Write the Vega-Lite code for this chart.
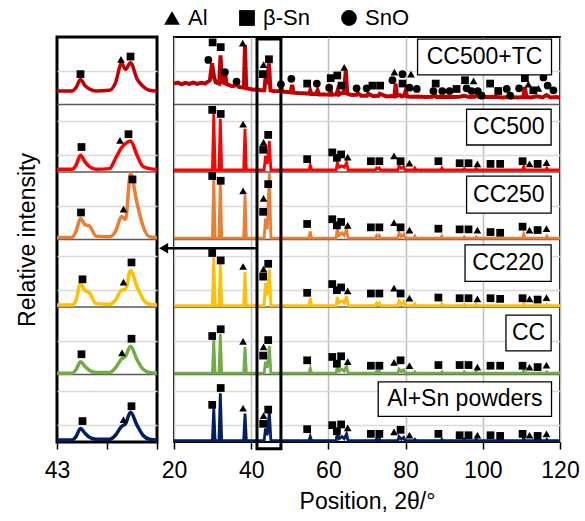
{
"$schema": "https://vega.github.io/schema/vega-lite/v6.json",
"background": "white",
"padding": {"left": 14, "top": 7, "right": 0, "bottom": 0},
"spacing": 17,
"bounds": "flush",
"datasets": {
"rLines": [
{"x":20,"A":0.02,"B":1.02,"C":2.02,"D":3.02,"E":4.03},
{"x":29.95,"A":0.02,"B":1.02,"C":2.02,"D":3.02,"E":4.03},
{"x":30.3,"A":0.50,"B":1.51,"C":2.77,"D":3.93,"E":4.87},
{"x":30.65,"A":0.02,"B":1.02,"C":2.02,"D":3.02,"E":4.03},
{"x":31.65,"A":0.02,"B":1.02,"C":2.02,"D":3.02,"E":4.03},
{"x":32.0,"A":0.72,"B":1.60,"C":2.64,"D":3.86,"E":4.79},
{"x":32.35,"A":0.02,"B":1.02,"C":2.02,"D":3.02,"E":4.03},
{"x":38.05,"A":0.02,"B":1.02,"C":2.02,"D":3.02,"E":4.03},
{"x":38.4,"A":0.42,"B":1.41,"C":2.52,"D":3.66,"E":4.64},
{"x":38.75,"A":0.02,"B":1.02,"C":2.02,"D":3.02,"E":4.03},
{"x":43.35,"A":0.02,"B":1.02,"C":2.02,"D":3.02,"E":4.03},
{"x":43.7,"A":0.20,"B":1.19,"C":2.35,"D":3.31,"E":4.24},
{"x":44.15,"A":0.10,"B":1.10,"C":2.17,"D":3.15,"E":4.12},
{"x":44.7,"A":0.45,"B":1.42,"C":2.56,"D":3.98,"E":4.46},
{"x":45.1,"A":0.02,"B":1.02,"C":2.02,"D":3.02,"E":4.03},
{"x":54.95,"A":0.02,"B":1.02,"C":2.02,"D":3.02,"E":4.03},
{"x":55.3,"A":0.08,"B":1.09,"C":2.13,"D":3.12,"E":4.10},
{"x":55.65,"A":0.02,"B":1.02,"C":2.02,"D":3.02,"E":4.03},
{"x":62.0,"A":0.02,"B":1.02,"C":2.02,"D":3.02,"E":4.03},
{"x":62.3,"A":0.14,"B":1.13,"C":2.15,"D":3.17,"E":4.14},
{"x":62.8,"A":0.05,"B":1.05,"C":2.06,"D":3.06,"E":4.07},
{"x":63.5,"A":0.08,"B":1.08,"C":2.09,"D":3.10,"E":4.09},
{"x":64.1,"A":0.05,"B":1.05,"C":2.06,"D":3.06,"E":4.07},
{"x":64.7,"A":0.12,"B":1.13,"C":2.16,"D":3.15,"E":4.14},
{"x":65.1,"A":0.02,"B":1.02,"C":2.02,"D":3.02,"E":4.03},
{"x":72.2,"A":0.02,"B":1.02,"C":2.02,"D":3.02,"E":4.03},
{"x":72.5,"A":0.05,"B":1.05,"C":2.06,"D":3.06,"E":4.06},
{"x":72.85,"A":0.03,"B":1.03,"C":2.04,"D":3.04,"E":4.05},
{"x":73.2,"A":0.05,"B":1.05,"C":2.06,"D":3.06,"E":4.06},
{"x":73.5,"A":0.02,"B":1.02,"C":2.02,"D":3.02,"E":4.03},
{"x":78.0,"A":0.02,"B":1.02,"C":2.02,"D":3.02,"E":4.03},
{"x":78.3,"A":0.08,"B":1.08,"C":2.09,"D":3.10,"E":4.09},
{"x":78.9,"A":0.04,"B":1.04,"C":2.04,"D":3.04,"E":4.05},
{"x":79.5,"A":0.07,"B":1.07,"C":2.08,"D":3.08,"E":4.08},
{"x":79.85,"A":0.02,"B":1.02,"C":2.02,"D":3.02,"E":4.03},
{"x":82.1,"A":0.02,"B":1.02,"C":2.02,"D":3.02,"E":4.03},
{"x":82.4,"A":0.04,"B":1.04,"C":2.05,"D":3.05,"E":4.06},
{"x":82.7,"A":0.02,"B":1.02,"C":2.02,"D":3.02,"E":4.03},
{"x":89.1,"A":0.02,"B":1.02,"C":2.02,"D":3.02,"E":4.03},
{"x":89.4,"A":0.04,"B":1.04,"C":2.05,"D":3.05,"E":4.06},
{"x":89.7,"A":0.02,"B":1.02,"C":2.02,"D":3.02,"E":4.03},
{"x":94.9,"A":0.02,"B":1.02,"C":2.02,"D":3.02,"E":4.03},
{"x":95.2,"A":0.04,"B":1.04,"C":2.04,"D":3.04,"E":4.05},
{"x":95.5,"A":0.02,"B":1.02,"C":2.02,"D":3.02,"E":4.03},
{"x":98.0,"A":0.02,"B":1.02,"C":2.02,"D":3.02,"E":4.03},
{"x":98.3,"A":0.04,"B":1.04,"C":2.04,"D":3.04,"E":4.05},
{"x":98.6,"A":0.02,"B":1.02,"C":2.02,"D":3.02,"E":4.03},
{"x":110.3,"A":0.02,"B":1.02,"C":2.02,"D":3.02,"E":4.03},
{"x":110.6,"A":0.06,"B":1.06,"C":2.06,"D":3.08,"E":4.08},
{"x":110.9,"A":0.02,"B":1.02,"C":2.02,"D":3.02,"E":4.03},
{"x":116.3,"A":0.02,"B":1.02,"C":2.02,"D":3.02,"E":4.03},
{"x":116.6,"A":0.04,"B":1.04,"C":2.04,"D":3.05,"E":4.06},
{"x":116.9,"A":0.02,"B":1.02,"C":2.02,"D":3.02,"E":4.03},
{"x":120,"A":0.02,"B":1.02,"C":2.02,"D":3.02,"E":4.03}
],
"fLine": [
{"x":20,"y":5.31},{"x":21,"y":5.325},{"x":22,"y":5.30},{"x":23,"y":5.32},{"x":24,"y":5.305},{"x":25,"y":5.325},{"x":26,"y":5.305},{"x":27,"y":5.32},{"x":28,"y":5.31},{"x":28.8,"y":5.34},{"x":29.3,"y":5.36},{"x":29.85,"y":5.61},{"x":30.4,"y":5.40},{"x":30.8,"y":5.33},
{"x":31.7,"y":5.31},{"x":32.05,"y":5.73},{"x":32.4,"y":5.33},{"x":33.0,"y":5.32},{"x":33.3,"y":5.44},{"x":33.6,"y":5.30},{"x":34.2,"y":5.29},{"x":35,"y":5.27},{"x":35.8,"y":5.28},{"x":36.3,"y":5.30},{"x":36.8,"y":5.26},{"x":37.4,"y":5.255},
{"x":38.1,"y":5.25},{"x":38.4,"y":5.88},{"x":38.7,"y":5.24},{"x":39.5,"y":5.235},{"x":40.5,"y":5.22},{"x":41.5,"y":5.225},{"x":42.5,"y":5.21},{"x":43.4,"y":5.21},{"x":43.7,"y":5.39},{"x":44.1,"y":5.30},{"x":44.6,"y":5.61},{"x":45.0,"y":5.21},
{"x":46.0,"y":5.195},{"x":47.3,"y":5.20},{"x":47.8,"y":5.24},{"x":48.3,"y":5.19},{"x":49.3,"y":5.185},{"x":50.2,"y":5.18},{"x":50.6,"y":5.29},{"x":51.0,"y":5.175},{"x":52.0,"y":5.17},{"x":53.5,"y":5.165},{"x":55.0,"y":5.16},{"x":55.3,"y":5.21},{"x":55.6,"y":5.155},
{"x":56.8,"y":5.155},{"x":57.2,"y":5.21},{"x":57.6,"y":5.15},{"x":59.0,"y":5.15},{"x":60.3,"y":5.145},{"x":60.6,"y":5.20},{"x":61.0,"y":5.145},{"x":62.1,"y":5.15},{"x":62.4,"y":5.21},{"x":62.8,"y":5.15},{"x":63.5,"y":5.17},{"x":64.0,"y":5.17},{"x":64.5,"y":5.50},{"x":64.9,"y":5.16},
{"x":66.0,"y":5.14},{"x":67.3,"y":5.145},{"x":67.6,"y":5.17},{"x":68.5,"y":5.13},{"x":70.0,"y":5.13},{"x":70.3,"y":5.16},{"x":71.5,"y":5.125},{"x":73.0,"y":5.13},{"x":73.3,"y":5.16},{"x":75.0,"y":5.12},{"x":76.5,"y":5.125},{"x":77.1,"y":5.12},{"x":77.4,"y":5.31},{"x":77.8,"y":5.13},
{"x":78.6,"y":5.14},{"x":79.0,"y":5.12},{"x":79.6,"y":5.13},{"x":80.0,"y":5.20},{"x":80.4,"y":5.12},{"x":81.5,"y":5.115},{"x":83.0,"y":5.12},{"x":85.0,"y":5.11},{"x":87.0,"y":5.115},{"x":87.6,"y":5.14},{"x":88.0,"y":5.11},{"x":90.0,"y":5.115},{"x":92.0,"y":5.11},
{"x":94.0,"y":5.115},{"x":95.2,"y":5.13},{"x":96.5,"y":5.11},{"x":98.0,"y":5.115},{"x":98.5,"y":5.14},{"x":99.0,"y":5.11},{"x":101.0,"y":5.11},{"x":103.0,"y":5.115},{"x":105.0,"y":5.105},{"x":107.0,"y":5.11},{"x":109.0,"y":5.105},{"x":110.5,"y":5.11},{"x":110.9,"y":5.26},{"x":111.3,"y":5.11},
{"x":112.5,"y":5.105},{"x":114.0,"y":5.12},{"x":115.5,"y":5.105},{"x":116.5,"y":5.14},{"x":117.5,"y":5.105},{"x":119.0,"y":5.11},{"x":120,"y":5.10}
],
"rMarks": [
{"x":29.9,"p":"β-Sn","A":0.55,"B":1.57,"C":2.80,"D":3.94,"E":4.92},
{"x":32.1,"p":"β-Sn","A":0.80,"B":1.67,"C":2.69,"D":3.87,"E":4.86},
{"x":37.9,"p":"Al","A":0.50,"B":1.49,"C":2.60,"D":3.72,"E":4.71},
{"x":43.1,"p":"β-Sn","A":0.27,"B":1.28,"C":2.45,"D":3.41,"E":4.33},
{"x":43.2,"p":"Al","A":0.39,"B":1.41,"C":2.56,"D":3.61,"E":4.44},
{"x":44.4,"p":"β-Sn","A":0.48,"B":1.51,"C":2.64,"D":3.82,"E":4.55},
{"x":54.5,"p":"β-Sn","A":0.19,"B":1.21,"C":2.21,"D":3.23,"E":4.19},
{"x":61.0,"p":"β-Sn","A":0.25,"B":1.26,"C":2.34,"D":3.30,"E":4.29},
{"x":62.2,"p":"β-Sn","A":0.16,"B":1.16,"C":2.25,"D":3.21,"E":4.21},
{"x":63.3,"p":"β-Sn","A":0.26,"B":1.27,"C":2.29,"D":3.26,"E":4.26},
{"x":65.0,"p":"Al","A":0.21,"B":1.19,"C":2.24,"D":3.21,"E":4.22},
{"x":71.0,"p":"β-Sn","A":0.12,"B":1.13,"C":2.20,"D":3.18,"E":4.16},
{"x":73.2,"p":"β-Sn","A":0.12,"B":1.13,"C":2.20,"D":3.18,"E":4.16},
{"x":77.0,"p":"Al","A":0.15,"B":1.18,"C":2.28,"D":3.25,"E":4.24},
{"x":78.7,"p":"β-Sn","A":0.18,"B":1.21,"C":2.20,"D":3.18,"E":4.16},
{"x":81.0,"p":"Al","A":0.10,"B":1.13,"C":2.13,"D":3.14,"E":4.13},
{"x":88.5,"p":"β-Sn","A":0.12,"B":1.14,"C":2.14,"D":3.16,"E":4.16},
{"x":94.0,"p":"β-Sn","A":0.10,"B":1.14,"C":2.13,"D":3.15,"E":4.13},
{"x":96.3,"p":"β-Sn","A":0.10,"B":1.14,"C":2.13,"D":3.15,"E":4.13},
{"x":98.6,"p":"Al","A":0.10,"B":1.11,"C":2.12,"D":3.14,"E":4.12},
{"x":102.0,"p":"β-Sn","A":0.10,"B":1.13,"C":2.13,"D":3.11,"E":4.12},
{"x":104.5,"p":"β-Sn","A":0.09,"B":1.13,"C":2.12,"D":3.10,"E":4.12},
{"x":110.3,"p":"β-Sn","A":0.12,"B":1.13,"C":2.13,"D":3.19,"E":4.16},
{"x":112.1,"p":"Al","A":0.10,"B":1.11,"C":2.12,"D":3.14,"E":4.12},
{"x":114.2,"p":"β-Sn","A":0.09,"B":1.11,"C":2.11,"D":3.14,"E":4.12},
{"x":116.5,"p":"Al","A":0.12,"B":1.14,"C":2.14,"D":3.16,"E":4.14}
],
"fMarks": [
{"x":28.9,"y":5.66,"p":"SnO"},{"x":30.0,"y":5.92,"p":"β-Sn"},{"x":32.1,"y":5.85,"p":"β-Sn"},{"x":33.2,"y":5.48,"p":"SnO"},{"x":36.2,"y":5.34,"p":"SnO"},{"x":37.8,"y":5.91,"p":"Al"},
{"x":43.0,"y":5.45,"p":"β-Sn"},{"x":43.2,"y":5.59,"p":"Al"},{"x":44.6,"y":5.67,"p":"β-Sn"},{"x":47.7,"y":5.30,"p":"SnO"},{"x":50.4,"y":5.38,"p":"SnO"},{"x":54.5,"y":5.31,"p":"β-Sn"},
{"x":57.0,"y":5.31,"p":"SnO"},{"x":60.2,"y":5.25,"p":"SnO"},{"x":60.6,"y":5.39,"p":"β-Sn"},{"x":62.3,"y":5.43,"p":"β-Sn"},{"x":63.4,"y":5.28,"p":"β-Sn"},{"x":64.1,"y":5.55,"p":"Al"},
{"x":67.3,"y":5.24,"p":"SnO"},{"x":69.9,"y":5.24,"p":"SnO"},{"x":71.4,"y":5.28,"p":"β-Sn"},{"x":73.4,"y":5.28,"p":"β-Sn"},{"x":76.6,"y":5.36,"p":"SnO"},{"x":77.1,"y":5.48,"p":"Al"},
{"x":79.2,"y":5.45,"p":"SnO"},{"x":79.2,"y":5.31,"p":"β-Sn"},{"x":81.0,"y":5.25,"p":"SnO"},{"x":81.4,"y":5.45,"p":"Al"},{"x":82.9,"y":5.23,"p":"SnO"},{"x":87.2,"y":5.20,"p":"SnO"},
{"x":87.8,"y":5.31,"p":"β-Sn"},{"x":89.5,"y":5.20,"p":"SnO"},{"x":91.4,"y":5.20,"p":"SnO"},{"x":93.2,"y":5.23,"p":"β-Sn"},{"x":95.4,"y":5.36,"p":"β-Sn"},{"x":95.8,"y":5.24,"p":"SnO"},
{"x":97.1,"y":5.20,"p":"SnO"},{"x":97.6,"y":5.35,"p":"Al"},{"x":98.7,"y":5.20,"p":"SnO"},{"x":99.7,"y":5.13,"p":"SnO"},{"x":101.9,"y":5.31,"p":"β-Sn"},{"x":104.0,"y":5.20,"p":"β-Sn"},
{"x":106.2,"y":5.23,"p":"SnO"},{"x":107.1,"y":5.13,"p":"SnO"},{"x":109.4,"y":5.24,"p":"SnO"},{"x":110.9,"y":5.39,"p":"β-Sn"},{"x":111.8,"y":5.30,"p":"Al"},{"x":113.1,"y":5.21,"p":"β-Sn"},
{"x":114.4,"y":5.24,"p":"Al"},{"x":115.7,"y":5.40,"p":"SnO"},{"x":116.8,"y":5.28,"p":"SnO"},{"x":118.3,"y":5.21,"p":"SnO"}
],
"lLines": [
{"x":43.0,"A":0.03,"B":1.02,"C":2.03,"D":3.03,"E":4.04,"F":5.20},
{"x":43.3,"A":0.03,"B":1.02,"C":2.03,"D":3.03,"E":4.04,"F":5.20},
{"x":43.38,"A":0.08,"B":1.07,"C":2.10,"D":3.12,"E":4.10,"F":5.25},
{"x":43.47,"A":0.20,"B":1.19,"C":2.35,"D":3.31,"E":4.25,"F":5.37},
{"x":43.56,"A":0.13,"B":1.12,"C":2.24,"D":3.22,"E":4.15,"F":5.28},
{"x":43.65,"A":0.07,"B":1.06,"C":2.21,"D":3.20,"E":4.08,"F":5.23},
{"x":43.78,"A":0.04,"B":1.03,"C":2.05,"D":3.05,"E":4.04,"F":5.20},
{"x":44.05,"A":0.04,"B":1.03,"C":2.04,"D":3.04,"E":4.05,"F":5.21},
{"x":44.17,"A":0.10,"B":1.10,"C":2.10,"D":3.12,"E":4.20,"F":5.32},
{"x":44.29,"A":0.23,"B":1.23,"C":2.25,"D":3.34,"E":4.36,"F":5.61},
{"x":44.37,"A":0.27,"B":1.27,"C":2.26,"D":3.30,"E":4.42,"F":5.52},
{"x":44.47,"A":0.44,"B":1.42,"C":2.54,"D":3.98,"E":4.46,"F":5.62},
{"x":44.6,"A":0.25,"B":1.22,"C":2.30,"D":3.54,"E":4.25,"F":5.38},
{"x":44.72,"A":0.10,"B":1.08,"C":2.12,"D":3.20,"E":4.08,"F":5.27},
{"x":44.85,"A":0.04,"B":1.03,"C":2.04,"D":3.04,"E":4.05,"F":5.21},
{"x":45.0,"A":0.03,"B":1.02,"C":2.03,"D":3.03,"E":4.04,"F":5.20}
],
"lMarks": [
{"x":43.51,"y":0.31,"p":"β-Sn"},{"x":44.33,"y":0.33,"p":"Al"},{"x":44.49,"y":0.53,"p":"β-Sn"},
{"x":43.49,"y":1.30,"p":"β-Sn"},{"x":44.30,"y":1.32,"p":"Al"},{"x":44.49,"y":1.53,"p":"β-Sn"},
{"x":43.51,"y":2.41,"p":"β-Sn"},{"x":44.33,"y":2.37,"p":"Al"},{"x":44.49,"y":2.66,"p":"β-Sn"},
{"x":43.48,"y":3.40,"p":"β-Sn"},{"x":44.33,"y":3.45,"p":"Al"},{"x":44.51,"y":3.89,"p":"β-Sn"},
{"x":43.49,"y":4.37,"p":"β-Sn"},{"x":44.26,"y":4.47,"p":"Al"},{"x":44.43,"y":4.56,"p":"β-Sn"},
{"x":43.47,"y":5.45,"p":"β-Sn"},{"x":44.28,"y":5.67,"p":"Al"},{"x":44.47,"y":5.71,"p":"β-Sn"}
],
"labels": [
{"t":"CC500+TC","x1":83.1,"x2":117.8,"y1":5.44,"y2":5.97,"xc":100.45,"yc":5.705},
{"t":"CC500","x1":95.8,"x2":117.7,"y1":4.40,"y2":4.93,"xc":106.75,"yc":4.665},
{"t":"CC250","x1":95.8,"x2":117.7,"y1":3.39,"y2":3.94,"xc":106.75,"yc":3.665},
{"t":"CC220","x1":95.4,"x2":117.7,"y1":2.38,"y2":2.92,"xc":106.55,"yc":2.65},
{"t":"CC","x1":106.0,"x2":117.7,"y1":1.35,"y2":1.88,"xc":111.85,"yc":1.615},
{"t":"Al+Sn powders","x1":72.9,"x2":117.8,"y1":0.38,"y2":0.89,"xc":95.35,"yc":0.635}
],
"seps": [{"y":1},{"y":2},{"y":3},{"y":4},{"y":5}],
"hl": [{"x":41.5,"x2":47.7,"y":5.97,"y2":-0.1}],
"arrow": [{"x":17.3,"x2":41.5,"y":2.87}]
},
"hconcat": [
{
"width": 100, "height": 405,
"view": {"stroke": "black", "strokeWidth": 3},
"layer": [
{"data": {"name": "seps"}, "mark": {"type": "rule", "color": "#595959", "strokeWidth": 1.5},
 "encoding": {"y": {"field": "y", "type": "quantitative", "scale": {"domain": [0, 6], "nice": false, "zero": false},
  "axis": {"values": [0.25,0.5,0.75,1.25,1.5,1.75,2.25,2.5,2.75,3.25,3.5,3.75,4.25,4.5,4.75,5.25,5.5,5.75], "grid": true, "gridColor": "#d9d9d9", "gridWidth": 1.5, "labels": false, "ticks": false, "domain": false, "title": "Relative intensity", "titleFontSize": 23, "titleFontWeight": "normal", "titleColor": "black", "titlePadding": 18}}}},
{"data": {"name": "lLines"}, "transform": [{"fold": ["A","B","C","D","E","F"], "as": ["s","y"]}],
 "mark": {"type": "line", "strokeWidth": 3.5, "interpolate": "monotone"},
 "encoding": {
  "x": {"field": "x", "type": "quantitative", "scale": {"domain": [43, 45], "nice": false, "zero": false},
   "axis": {"values": [43, 44, 45], "labelExpr": "datum.value === 43 ? '43' : ''", "grid": false, "domain": false, "tickColor": "black", "tickWidth": 1.5, "tickSize": 7, "labelFontSize": 23, "labelColor": "black", "labelPadding": 10, "labelFlush": false, "labelOverlap": false, "title": null}},
  "y": {"field": "y", "type": "quantitative"},
  "color": {"field": "s", "type": "nominal", "scale": {"domain": ["A","B","C","D","E","F"], "range": ["#002060","#70AD47","#FFC000","#ED7D31","#FF0000","#C00000"]}, "legend": null}}},
{"data": {"name": "lMarks"}, "mark": {"type": "point", "filled": true, "size": 60, "color": "black", "opacity": 1},
 "encoding": {"x": {"field": "x", "type": "quantitative"}, "y": {"field": "y", "type": "quantitative"},
  "shape": {"field": "p", "type": "nominal", "scale": {"domain": ["Al","β-Sn","SnO"], "range": ["triangle-up","square","circle"]},
   "legend": {"title": null, "orient": "none", "legendX": 104, "legendY": -30, "direction": "horizontal", "labelFontSize": 22, "labelColor": "black", "symbolSize": 250, "symbolFillColor": "black", "symbolStrokeColor": "black", "symbolStrokeWidth": 0, "columnPadding": 28, "labelOffset": 5, "padding": 0}}}}
]
},
{
"width": 386, "height": 405,
"view": {"stroke": "black", "strokeWidth": 2},
"layer": [
{"data": {"name": "seps"}, "mark": {"type": "rule", "color": "#595959", "strokeWidth": 1.5},
 "encoding": {"y": {"field": "y", "type": "quantitative", "scale": {"domain": [0, 6], "nice": false, "zero": false},
  "axis": {"values": [0.25,0.5,0.75,1.25,1.5,1.75,2.25,2.5,2.75,3.25,3.5,3.75,4.25,4.5,4.75,5.25,5.5,5.75], "grid": true, "gridColor": "#d9d9d9", "gridWidth": 1.5, "labels": false, "ticks": false, "domain": false, "title": null}}}},
{"data": {"name": "fLine"}, "mark": {"type": "line", "strokeWidth": 4, "color": "#C00000"},
 "encoding": {
  "x": {"field": "x", "type": "quantitative", "scale": {"domain": [20, 120], "nice": false, "zero": false},
   "axis": {"values": [20,30,40,50,60,70,80,90,100,110,120], "labelExpr": "datum.value % 20 === 0 ? datum.label : ''", "grid": true, "gridColor": "#bfbfbf", "gridWidth": 1.5, "domain": false, "tickColor": "black", "tickWidth": 1.5, "tickSize": 7, "labelFontSize": 23, "labelColor": "black", "labelPadding": 10, "labelFlush": false, "labelOverlap": false, "title": "Position, 2θ/°", "titleFontSize": 23, "titleFontWeight": "normal", "titleColor": "black", "titlePadding": 8}},
  "y": {"field": "y", "type": "quantitative"}}},
{"data": {"name": "rLines"}, "transform": [{"fold": ["A","B","C","D","E"], "as": ["s","y"]}],
 "mark": {"type": "line", "strokeWidth": 2.8},
 "encoding": {"x": {"field": "x", "type": "quantitative"}, "y": {"field": "y", "type": "quantitative"},
  "color": {"field": "s", "type": "nominal", "scale": {"domain": ["A","B","C","D","E","F"], "range": ["#002060","#70AD47","#FFC000","#ED7D31","#FF0000","#C00000"]}, "legend": null}}},
{"data": {"name": "rMarks"}, "transform": [{"fold": ["A","B","C","D","E"], "as": ["s","y"]}],
 "mark": {"type": "point", "filled": true, "size": 60, "color": "black", "opacity": 1},
 "encoding": {"x": {"field": "x", "type": "quantitative"}, "y": {"field": "y", "type": "quantitative"},
  "shape": {"field": "p", "type": "nominal", "legend": {"title": null, "orient": "none", "legendX": 104, "legendY": -30, "direction": "horizontal", "labelFontSize": 22, "labelColor": "black", "symbolSize": 250, "symbolFillColor": "black", "symbolStrokeColor": "black", "symbolStrokeWidth": 0, "columnPadding": 28, "labelOffset": 5, "padding": 0}}}},
{"data": {"name": "fMarks"},
 "mark": {"type": "point", "filled": true, "size": 60, "color": "black", "opacity": 1},
 "encoding": {"x": {"field": "x", "type": "quantitative"}, "y": {"field": "y", "type": "quantitative"},
  "shape": {"field": "p", "type": "nominal", "legend": {"title": null, "orient": "none", "legendX": 104, "legendY": -30, "direction": "horizontal", "labelFontSize": 22, "labelColor": "black", "symbolSize": 250, "symbolFillColor": "black", "symbolStrokeColor": "black", "symbolStrokeWidth": 0, "columnPadding": 28, "labelOffset": 5, "padding": 0}}}},
{"data": {"name": "hl"}, "mark": {"type": "rect", "fillOpacity": 0, "stroke": "black", "strokeWidth": 3},
 "encoding": {"x": {"field": "x", "type": "quantitative"}, "x2": {"field": "x2"}, "y": {"field": "y", "type": "quantitative"}, "y2": {"field": "y2"}}},
{"data": {"name": "arrow"}, "mark": {"type": "rule", "color": "black", "strokeWidth": 2.5},
 "encoding": {"x": {"field": "x", "type": "quantitative"}, "x2": {"field": "x2"}, "y": {"field": "y", "type": "quantitative"}}},
{"data": {"name": "arrow"}, "mark": {"type": "point", "shape": "triangle-left", "filled": true, "size": 110, "color": "black", "opacity": 1},
 "encoding": {"x": {"field": "x", "type": "quantitative"}, "y": {"field": "y", "type": "quantitative"}}},
{"data": {"name": "labels"}, "mark": {"type": "rect", "fill": "white", "stroke": "black", "strokeWidth": 1.3},
 "encoding": {"x": {"field": "x1", "type": "quantitative"}, "x2": {"field": "x2"}, "y": {"field": "y1", "type": "quantitative"}, "y2": {"field": "y2"}}},
{"data": {"name": "labels"}, "mark": {"type": "text", "fontSize": 23, "color": "black", "align": "center", "baseline": "middle"},
 "encoding": {"x": {"field": "xc", "type": "quantitative"}, "y": {"field": "yc", "type": "quantitative"}, "text": {"field": "t"}}}
]
}
],
"config": {"font": "Liberation Sans", "view": {"stroke": null}}
}
